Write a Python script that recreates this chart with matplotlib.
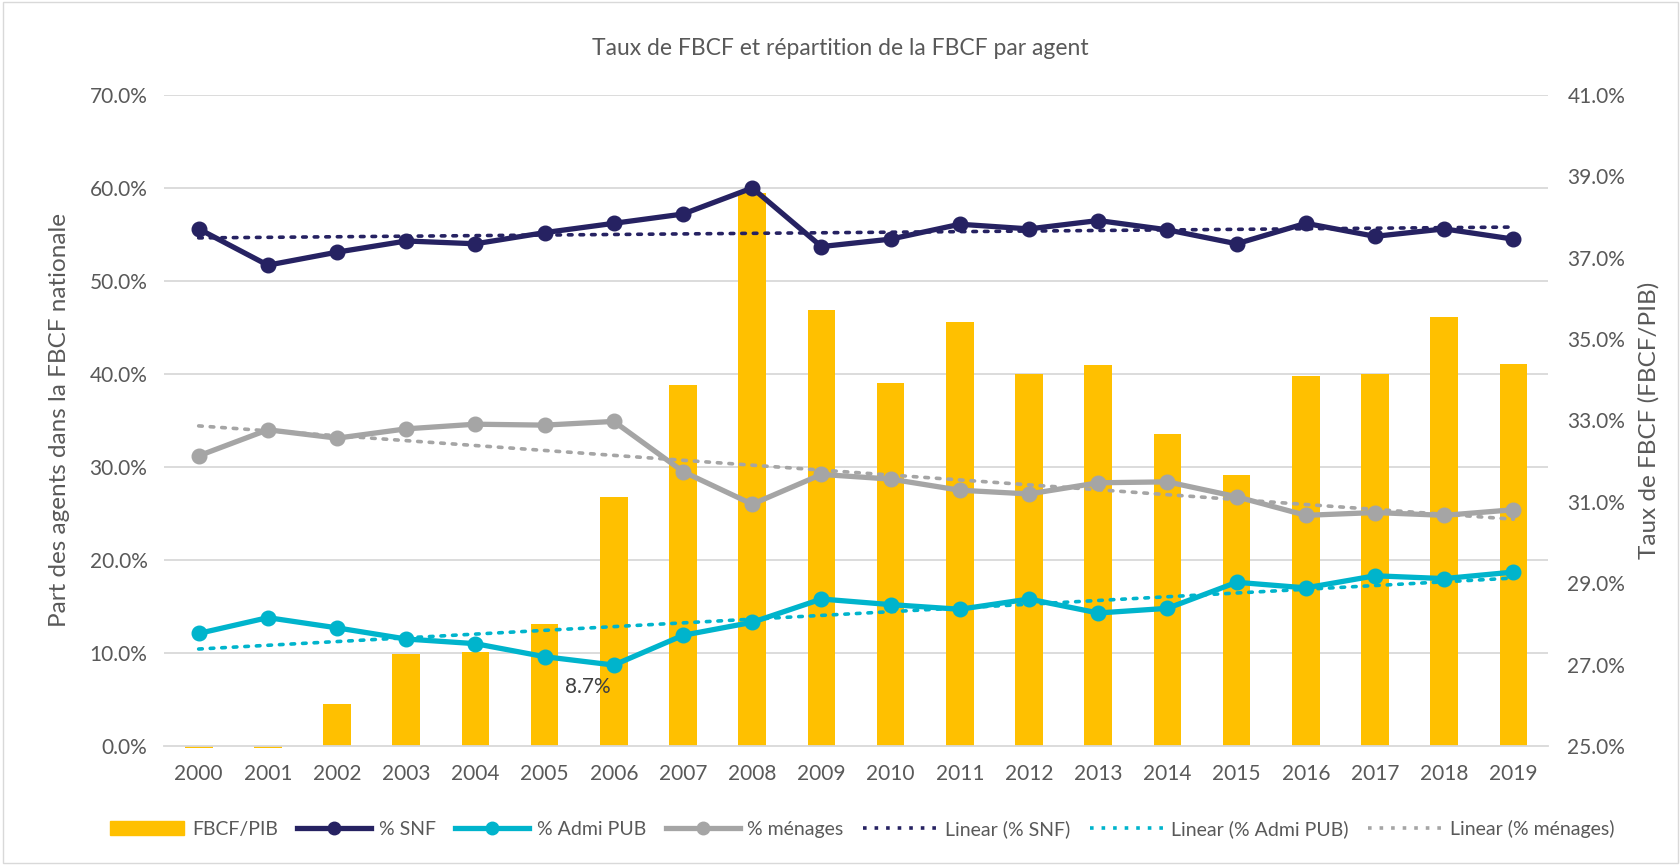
import numpy as np
import matplotlib
matplotlib.use("Agg")
import matplotlib.pyplot as plt
import matplotlib.transforms as mtransforms
from matplotlib.patches import Patch
from matplotlib.lines import Line2D

years = list(range(2000, 2020))
fbcf_pib = [24.96, 24.96, 26.02, 27.25, 27.31, 28.00, 31.11, 33.87, 38.59, 35.72,
            33.92, 35.43, 34.15, 34.36, 32.66, 31.66, 34.10, 34.14, 35.55, 34.38]
snf = [55.6, 51.7, 53.1, 54.3, 54.0, 55.2, 56.2, 57.2, 60.0, 53.7,
       54.5, 56.1, 55.6, 56.5, 55.5, 54.0, 56.2, 54.8, 55.6, 54.5]
admi_pub = [12.1, 13.8, 12.7, 11.5, 11.0, 9.6, 8.7, 11.9, 13.3, 15.8,
            15.2, 14.7, 15.8, 14.3, 14.8, 17.6, 17.0, 18.3, 18.0, 18.7]
menages = [31.2, 34.0, 33.1, 34.1, 34.6, 34.5, 34.9, 29.5, 26.0, 29.2,
           28.7, 27.5, 27.1, 28.3, 28.4, 26.8, 24.8, 25.1, 24.8, 25.4]

c_bar = '#FFC000'
c_snf = '#262262'
c_pub = '#00B4CC'
c_men = '#A5A5A5'
c_txt = '#595959'

plt.rcParams['font.family'] = ['Lato', 'DejaVu Sans']

fig = plt.figure(figsize=(16.81, 8.65), dpi=100)
ax = fig.add_axes([0.0976, 0.1376, 0.8233, 0.7526])
ax2 = ax.twinx()
ax.set_zorder(ax2.get_zorder() + 1)
ax.patch.set_visible(False)

x = np.arange(len(years))

# gridlines (left scale), drawn behind the bars
tr = mtransforms.blended_transform_factory(ax2.transAxes, ax.transData)
for g in range(10, 80, 10):
    ax2.plot([0, 1], [g, g], transform=tr, color='#D9D9D9', lw=1.3, zorder=0)

# bars on right axis
heights = [v - 25 for v in fbcf_pib]
ax2.bar(x, heights, bottom=25, width=0.4, color=c_bar, zorder=2, clip_on=False)
ax2.set_ylim(25, 41)
ax2.set_yticks(np.arange(25, 42, 2))
ax2.set_yticklabels(['%.1f%%' % v for v in np.arange(25, 42, 2)])

# lines on left axis + linear trendlines
for vals, col in [(snf, c_snf), (admi_pub, c_pub), (menages, c_men)]:
    ax.plot(x, vals, color=col, lw=3.8, marker='o', ms=10.5, zorder=3)
    p = np.polyfit(x, vals, 1)
    ax.plot(x, np.polyval(p, x), color=col, lw=2.6, ls=(0, (1, 2.2)), zorder=2,
            dash_capstyle='round')

ax.annotate('8.7%', (x[6], admi_pub[6]), xytext=(-19, -16), textcoords='offset points',
            ha='center', va='center', fontsize=15, color='#404040')

ax.set_xlim(-0.5, len(years) - 0.5)
ax.set_ylim(0, 70)
ax.set_yticks(np.arange(0, 71, 10))
ax.set_yticklabels(['%.1f%%' % v for v in np.arange(0, 71, 10)])
ax.set_xticks(x)
ax.set_xticklabels([str(y) for y in years])

for a in (ax, ax2):
    for s in a.spines.values():
        s.set_visible(False)
    a.tick_params(length=0, labelsize=15, colors=c_txt)
ax.spines['bottom'].set_visible(True)
ax.spines['bottom'].set_color('#D9D9D9')
ax.spines['bottom'].set_linewidth(1.3)
ax.tick_params(axis='x', pad=13)
ax.tick_params(axis='y', pad=12)
ax2.tick_params(axis='y', pad=14)

ax.set_ylabel('Part des agents dans la FBCF nationale', fontsize=17.5, color=c_txt, labelpad=14)
ax2.set_ylabel('Taux de FBCF (FBCF/PIB)', fontsize=17.5, color=c_txt, labelpad=9)
fig.text(0.5, 0.944, 'Taux de FBCF et répartition de la FBCF par agent',
         ha='center', va='center', fontsize=16.5, color=c_txt)

handles = [
    Patch(color=c_bar, label='FBCF/PIB'),
    Line2D([], [], color=c_snf, lw=3.8, marker='o', ms=9, label='% SNF'),
    Line2D([], [], color=c_pub, lw=3.8, marker='o', ms=9, label='% Admi PUB'),
    Line2D([], [], color=c_men, lw=3.8, marker='o', ms=9, label='% ménages'),
    Line2D([], [], color=c_snf, lw=2.6, ls=(0, (1, 2.2)), label='Linear (% SNF)'),
    Line2D([], [], color=c_pub, lw=2.6, ls=(0, (1, 2.2)), label='Linear (% Admi PUB)'),
    Line2D([], [], color=c_men, lw=2.6, ls=(0, (1, 2.2)), label='Linear (% ménages)'),
]
leg = fig.legend(handles=handles, loc='center', bbox_to_anchor=(0.513, 0.042), ncol=7,
                 frameon=False, fontsize=14, handlelength=3.8, handletextpad=0.4,
                 columnspacing=1.0)
for t in leg.get_texts():
    t.set_color(c_txt)

# outer border
fig.patches.append(plt.Rectangle((0.002, 0.002), 0.996, 0.996, transform=fig.transFigure,
                                 fill=False, edgecolor='#D9D9D9', lw=1))

fig.savefig('out.png', dpi=100)
